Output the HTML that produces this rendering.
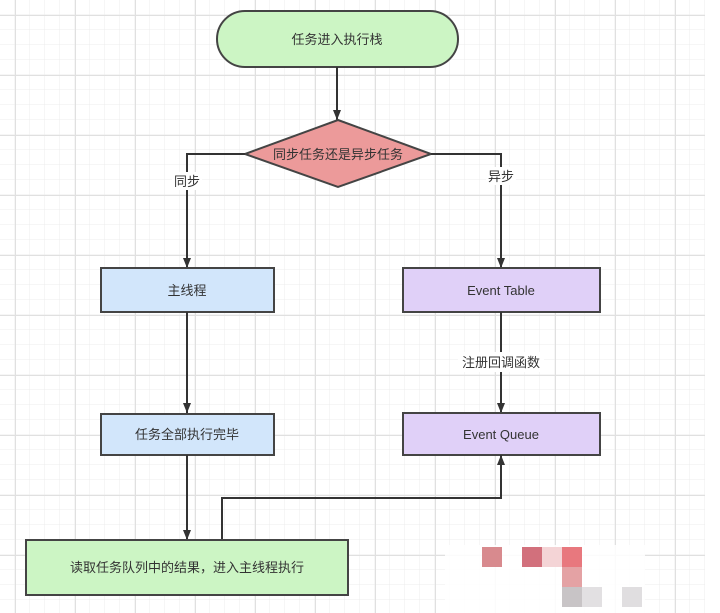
<!DOCTYPE html>
<html><head><meta charset="utf-8"><style>
html,body{margin:0;padding:0;background:#fff;}
</style></head><body>
<svg width="720" height="613" viewBox="0 0 720 613" xmlns="http://www.w3.org/2000/svg" style="display:block">
<defs>
<pattern id="g" x="0" y="0" width="15" height="15" patternUnits="userSpaceOnUse">
<path d="M15 0V15M0 15H15" stroke="#ececec" stroke-width="1"/>
</pattern>
<pattern id="G" x="15" y="15" width="60" height="60" patternUnits="userSpaceOnUse">
<path d="M0.5 0V60M0 0.5H60" stroke="#e0e0e0" stroke-width="1"/>
</pattern>
<marker id="a" viewBox="0 0 10 10" refX="10" refY="5" markerWidth="10" markerHeight="10" markerUnits="userSpaceOnUse" orient="auto">
<path d="M0 1L10 5L0 9z" fill="#333"/>
</marker>
</defs>
<rect x="0" y="0" width="705" height="613" fill="url(#g)"/>
<rect x="0" y="0" width="705" height="613" fill="url(#G)"/>
<g font-family="Liberation Sans, Noto Sans CJK SC, sans-serif" font-size="13" fill="#333" text-anchor="middle">
<rect x="217" y="11" width="241" height="56" rx="28" fill="#ccf5c4" stroke="#444" stroke-width="2"/>
<text x="337" y="44">任务进入执行栈</text>
<line x1="337" y1="67" x2="337" y2="120" stroke="#333" stroke-width="2" marker-end="url(#a)"/>
<polygon points="338,120 431,154 338,187 245,154" fill="#ec9a9a" stroke="#444" stroke-width="2"/>
<text x="338" y="159">同步任务还是异步任务</text>
<polyline points="245,154 187,154 187,268" fill="none" stroke="#333" stroke-width="2" marker-end="url(#a)"/>
<polyline points="431,154 501,154 501,268" fill="none" stroke="#333" stroke-width="2" marker-end="url(#a)"/>
<rect x="172" y="172" width="30" height="18" fill="#fff"/>
<text x="187" y="186">同步</text>
<rect x="486" y="167" width="30" height="18" fill="#fff"/>
<text x="501" y="181">异步</text>
<rect x="101" y="268" width="173" height="44" fill="#d2e6fb" stroke="#444" stroke-width="2"/>
<text x="187" y="295">主线程</text>
<rect x="403" y="268" width="197" height="44" fill="#e0d0f8" stroke="#444" stroke-width="2"/>
<text x="501" y="295">Event Table</text>
<line x1="187" y1="312" x2="187" y2="413" stroke="#333" stroke-width="2" marker-end="url(#a)"/>
<line x1="501" y1="312" x2="501" y2="413" stroke="#333" stroke-width="2" marker-end="url(#a)"/>
<rect x="458" y="352" width="86" height="20" fill="#fff"/>
<text x="501" y="367">注册回调函数</text>
<rect x="101" y="414" width="173" height="41" fill="#d2e6fb" stroke="#444" stroke-width="2"/>
<text x="187" y="439">任务全部执行完毕</text>
<rect x="403" y="413" width="197" height="42" fill="#e0d0f8" stroke="#444" stroke-width="2"/>
<text x="501" y="439">Event Queue</text>
<line x1="187" y1="455" x2="187" y2="540" stroke="#333" stroke-width="2" marker-end="url(#a)"/>
<polyline points="222,540 222,498 501,498 501,455" fill="none" stroke="#333" stroke-width="2" marker-start="url(#a)" marker-end="url(#a)"/>
<rect x="26" y="540" width="322" height="55" fill="#ccf5c4" stroke="#444" stroke-width="2"/>
<text x="187" y="572">读取任务队列中的结果，进入主线程执行</text>
</g>
<rect x="445" y="545" width="200" height="68" fill="#fff" opacity="0.85"/>
<rect x="482" y="547" width="20" height="20" fill="#d88a8e"/>
<rect x="522" y="547" width="20" height="20" fill="#d2707c"/>
<rect x="542" y="547" width="20" height="20" fill="#f4d4d6"/>
<rect x="562" y="547" width="20" height="20" fill="#e8787e"/>
<rect x="562" y="567" width="20" height="20" fill="#e4a2a4"/>
<rect x="562" y="587" width="20" height="20" fill="#c8c4c6"/>
<rect x="582" y="587" width="20" height="20" fill="#e2e0e2"/>
<rect x="622" y="587" width="20" height="20" fill="#e0dee0"/>
</svg>
</body></html>
